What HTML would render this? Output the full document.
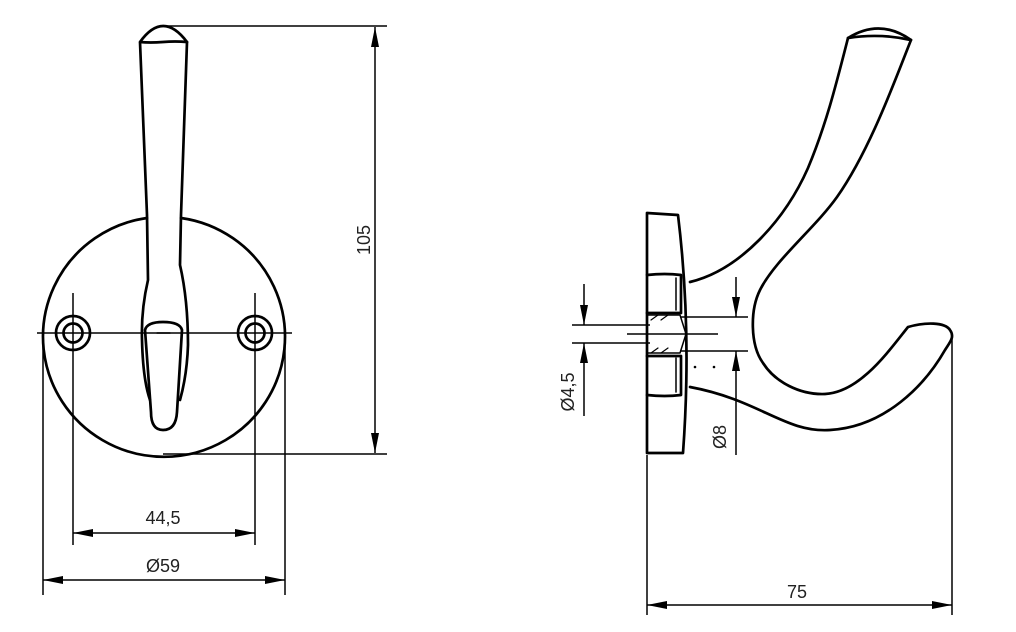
<!DOCTYPE html>
<html><head><style>
html,body{margin:0;padding:0;background:#fff}
svg{display:block}
text{font-family:"Liberation Sans",sans-serif;font-size:18px;fill:#222}
</style></head><body>
<svg width="1016" height="632" viewBox="0 0 1016 632" xmlns="http://www.w3.org/2000/svg">
<defs>
<marker id="a" viewBox="0 0 20 8" refX="20" refY="4" markerWidth="20" markerHeight="8" orient="auto-start-reverse" markerUnits="userSpaceOnUse"><path d="M0,0 L20,4 L0,8z" fill="#000"/></marker>
</defs>
<g fill="none" stroke="#000" stroke-width="1.5">
<line x1="37" y1="333" x2="292" y2="333"/>
<line x1="73" y1="293" x2="73" y2="545"/>
<line x1="255" y1="293" x2="255" y2="545"/>
<line x1="43" y1="335" x2="43" y2="595"/>
<line x1="285" y1="335" x2="285" y2="595"/>
<line x1="163" y1="26" x2="387" y2="26"/>
<line x1="163" y1="454" x2="387" y2="454"/>
<line x1="375" y1="27" x2="375" y2="453" marker-start="url(#a)" marker-end="url(#a)"/>
<line x1="73" y1="533" x2="255" y2="533" marker-start="url(#a)" marker-end="url(#a)"/>
<line x1="43" y1="580" x2="285" y2="580" marker-start="url(#a)" marker-end="url(#a)"/>
<line x1="647" y1="455" x2="647" y2="615"/>
<line x1="952" y1="337" x2="952" y2="615"/>
<line x1="647" y1="605" x2="952" y2="605" marker-start="url(#a)" marker-end="url(#a)"/>
<line x1="572" y1="325" x2="650" y2="325"/>
<line x1="572" y1="343" x2="650" y2="343"/>
<line x1="627" y1="334" x2="718" y2="334"/>
<line x1="584" y1="284" x2="584" y2="325" marker-end="url(#a)"/>
<line x1="584" y1="416" x2="584" y2="343" marker-end="url(#a)"/>
<line x1="680" y1="317" x2="748" y2="317"/>
<line x1="680" y1="351" x2="748" y2="351"/>
<line x1="736" y1="277" x2="736" y2="317" marker-end="url(#a)"/>
<line x1="736" y1="455" x2="736" y2="351" marker-end="url(#a)"/>
</g>
<g fill="none" stroke="#000" stroke-width="2.7" stroke-linejoin="round" stroke-linecap="round">
<path d="M147,218 A121,120 0 1 0 181,218"/>
<circle cx="73" cy="333" r="17"/><circle cx="73" cy="333" r="9.5"/>
<circle cx="255" cy="333" r="17"/><circle cx="255" cy="333" r="9.5"/>
<path d="M140,42 Q163,10 187,42 Q175,41 163,42 Q150,43 140,42 L147,215 L148,280 Q141,310 142,340 Q143,380 150,400"/>
<path d="M187,42 L181,215 L180,265 Q188,300 188,345 Q187,375 180,400"/>
<path d="M145,330 Q147,322 163,322 Q180,322 182,330 L177,412 Q176,430 163,430 Q151,430 151,412 Z"/>
<line x1="157" y1="333" x2="170" y2="333" stroke-width="1.5"/>
<path d="M647,213 L678,215 Q692,330 683,453 L647,453 Z"/>
<path d="M647,275 Q665,273 681,275 L681,313 L647,313"/>
<path d="M647,356 L681,356 L681,395 Q665,397 647,395"/>
<path d="M676,278 L676,310 M676,358 L676,392" stroke-width="1.5"/>
<path d="M647,315 L680,315 L686,334 L680,353 L647,353" stroke-width="1.5"/>
<path d="M651,320 L658,315 M661,320 L668,315 M651,353 L658,348 M661,353 L668,348" stroke-width="1.2"/>
<path d="M690,282 C740,270 785,220 808,168 C826,125 836,85 848,38 Q880,18 911,40 C895,80 870,150 837,197 C815,228 775,260 760,290 C750,310 750,345 763,363 C775,382 800,395 825,394 C860,392 888,352 908,327 C925,322 945,322 950,330 C955,337 950,342 945,350 C925,385 885,427 830,430 C785,433 760,400 690,387"/>
<path d="M848,38 Q880,33 911,40"/>
</g>
<g fill="#000"><circle cx="695" cy="367" r="1.3"/><circle cx="714" cy="367" r="1.3"/></g>
<text x="163" y="524" text-anchor="middle">44,5</text>
<text x="163" y="572" text-anchor="middle">Ø59</text>
<text x="797" y="598" text-anchor="middle">75</text>
<text transform="translate(370,240) rotate(-90)" text-anchor="middle">105</text>
<text transform="translate(574,392) rotate(-90)" text-anchor="middle">Ø4,5</text>
<text transform="translate(726,437) rotate(-90)" text-anchor="middle">Ø8</text>
</svg>
</body></html>
